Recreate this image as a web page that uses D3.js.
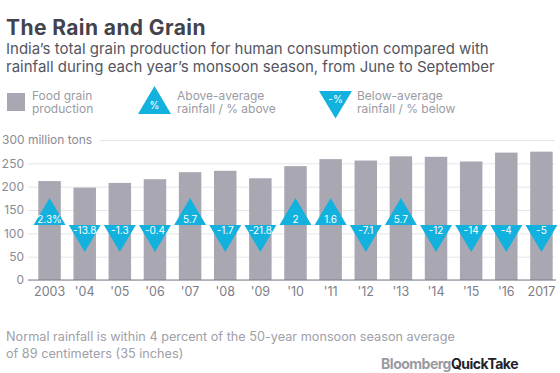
<!DOCTYPE html>
<html>
<head>
<meta charset="utf-8">
<script src="https://cdn.jsdelivr.net/npm/d3@7.9.0/dist/d3.min.js"></script>
<style>
  body { margin: 0; background: #fff; }
  svg { display: block; font-family: Inter, sans-serif; }
</style>
</head>
<body>
<svg id="chart" width="560" height="373"></svg>
<script>
// data
const years = ['2003', "'04", "'05", "'06", "'07", "'08", "'09", "'10", "'11", "'12", "'13", "'14", "'15", "'16", '2017'];
const production = [212, 198, 208, 216, 231, 234, 218, 244, 259, 256, 265, 264, 254, 273, 275];
const rainfall = [2.3, -13.8, -1.3, -0.4, 5.7, -1.7, -21.8, 2, 1.6, -7.1, 5.7, -12, -14, -4, -5];
const yTicks = [0, 50, 100, 150, 200, 250, 300];

const barColor = '#a9a7b1';
const triColor = '#13b1de';
const font = 'Inter, sans-serif';

const svg = d3.select('#chart');

// title + subtitle
svg.append('text').attr('x', 6).attr('y', 35)
  .attr('font-size', 21).attr('font-weight', 700).attr('letter-spacing', 0.4).attr('fill', '#43434d')
  .text('The Rain and Grain');
const sub = svg.append('text').attr('font-size', 15).attr('fill', '#55555f');
sub.append('tspan').attr('x', 6).attr('y', 54)
  .text('India\u2019s total grain production for human consumption compared with');
sub.append('tspan').attr('x', 6).attr('y', 72)
  .text('rainfall during each year\u2019s monsoon season, from June to September');

// scales
const y = d3.scaleLinear().domain([0, 300]).range([280, 140]);
const x = d3.scaleBand().domain(years).range([32, 559]).paddingInner(0.36).paddingOuter(0.18);

// gridlines + tick labels
const yAxis = svg.append('g').attr('transform', 'translate(28,0)')
  .call(d3.axisLeft(y).tickValues(yTicks).tickSize(-527).tickPadding(4)
    .tickFormat(d => d === 300 ? '300 million tons' : d));
yAxis.select('.domain').remove();
yAxis.selectAll('line').attr('stroke', '#e6e6ea');
yAxis.selectAll('text').attr('font-size', 12).attr('fill', '#8b8b94').attr('font-family', font);
yAxis.selectAll('.tick').filter(d => d === 300).each(function () {
  d3.select(this).select('text').attr('text-anchor', 'start').attr('x', -26);
  d3.select(this).select('line').attr('x1', 72);
});

// bars
svg.append('g').selectAll('rect').data(production).join('rect')
  .attr('x', (d, i) => x(years[i]))
  .attr('y', d => y(d))
  .attr('width', x.bandwidth())
  .attr('height', d => y(0) - y(d))
  .attr('fill', barColor);

// baseline
svg.append('line').attr('x1', 28).attr('x2', 556).attr('y1', y(0)).attr('y2', y(0))
  .attr('stroke', '#7d7d87').attr('stroke-width', 1.2);

// x labels
const xAxis = svg.append('g').attr('transform', `translate(0,${y(0)})`)
  .call(d3.axisBottom(x).tickSize(0).tickPadding(7));
xAxis.select('.domain').remove();
xAxis.selectAll('text').attr('font-size', 12.5).attr('fill', '#7d7d87').attr('font-family', font);

// rainfall triangles
const triW = 32, triH = 27, triBase = 225;
const tri = svg.append('g').selectAll('g').data(rainfall).join('g')
  .attr('transform', (d, i) => `translate(${x(years[i]) + x.bandwidth() / 2},${triBase})`);
tri.append('path')
  .attr('d', d => d > 0
    ? `M${-triW / 2},0L${triW / 2},0L0,${-triH}Z`
    : `M${-triW / 2},0L${triW / 2},0L0,${triH}Z`)
  .attr('fill', triColor);
tri.append('text')
  .attr('text-anchor', 'middle')
  .attr('y', d => d > 0 ? -2.5 : 9)
  .attr('font-size', 10).attr('fill', '#fff')
  .text((d, i) => i === 0 ? d + '%' : d);

// legend
const lg = svg.append('g').attr('font-size', 12).attr('fill', '#9b9ba4');
lg.append('rect').attr('x', 7).attr('y', 93).attr('width', 18).attr('height', 18).attr('fill', barColor);
function legendText(x0, lines) {
  const t = lg.append('text');
  lines.forEach((l, i) => t.append('tspan').attr('x', x0).attr('y', 99.5 + i * 13.5).text(l));
}
legendText(32, ['Food grain', 'production']);
lg.append('path').attr('d', 'M138,114L171,114L154.5,86Z').attr('fill', triColor);
lg.append('text').attr('x', 154.5).attr('y', 109).attr('text-anchor', 'middle')
  .attr('font-size', 10).attr('fill', '#fff').text('%');
legendText(177, ['Above-average', 'rainfall / % above']);
lg.append('path').attr('d', 'M319,91L352,91L335.5,118.5Z').attr('fill', triColor);
lg.append('text').attr('x', 335.5).attr('y', 103).attr('text-anchor', 'middle')
  .attr('font-size', 10).attr('fill', '#fff').text('-%');
legendText(357, ['Below-average', 'rainfall / % below']);

// footnote
const note = svg.append('text').attr('font-size', 12.7).attr('fill', '#a0a0a8');
note.append('tspan').attr('x', 6).attr('y', 341)
  .text('Normal rainfall is within 4 percent of the 50-year monsoon season average');
note.append('tspan').attr('x', 6).attr('y', 358).text('of 89 centimeters (35 inches)');

// logo
const logo = svg.append('text').attr('x', 518).attr('y', 369).attr('text-anchor', 'end')
  .attr('font-size', 14).attr('font-weight', 700).attr('letter-spacing', -0.5);
logo.append('tspan').attr('fill', '#9a9aa2').text('Bloomberg');
logo.append('tspan').attr('fill', '#22222c').text('QuickTake');
</script>
</body>
</html>
